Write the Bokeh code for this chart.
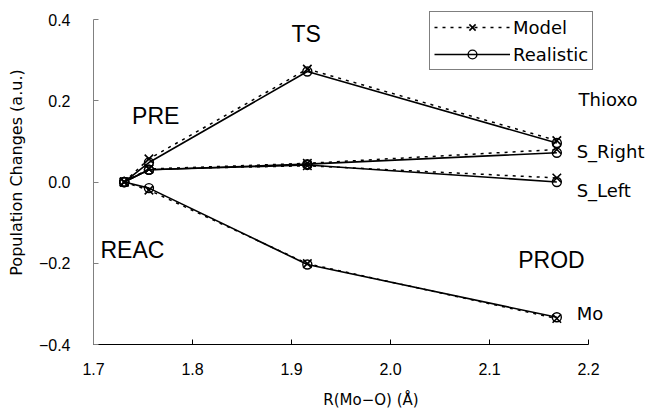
from bokeh.plotting import figure
from bokeh.models import Label, Legend, LegendItem, FixedTicker, Range1d
from bokeh.embed import file_html
from bokeh.resources import INLINE

# ---- data ----
r_mo_o = [1.731, 1.756, 1.916, 2.168]          # REAC, PRE, TS, PROD

thioxo_model = [0.0, 0.057, 0.278, 0.102]
thioxo_real = [0.0, 0.048, 0.272, 0.096]
sright_model = [0.0, 0.032, 0.046, 0.080]
sright_real = [0.0, 0.030, 0.044, 0.072]
sleft_model = [0.0, 0.032, 0.040, 0.010]
sleft_real = [0.0, 0.030, 0.042, 0.000]
mo_model = [0.0, -0.020, -0.201, -0.336]
mo_real = [0.0, -0.015, -0.203, -0.333]

x_ticks = [1.7, 1.8, 1.9, 2.0, 2.1, 2.2]
x_tick_labels = ["1.7", "1.8", "1.9", "2.0", "2.1", "2.2"]
y_ticks = [-0.4, -0.2, 0.0, 0.2, 0.4]
y_tick_labels = ["\u22120.4", "\u22120.2", "0.0", "0.2", "0.4"]

stage_labels = ["REAC", "PRE", "TS", "PROD"]
series_labels = ["Thioxo", "S_Right", "S_Left", "Mo"]

# ---- figure ----
# the frame is extended beyond the axes (axes limited by bounds) so that
# the annotations outside the 1.7-2.2 / -0.4-0.4 box are not clipped
p = figure(width=648, height=411, output_backend="svg", toolbar_location=None,
           x_range=Range1d(1.7, 2.2606), y_range=Range1d(-0.4, 0.4468),
           min_border_left=93, min_border_right=0, min_border_top=0,
           min_border_bottom=67)
p.xgrid.visible = False
p.ygrid.visible = False
p.outline_line_color = None
p.background_fill_color = "white"

# axes
p.xaxis.ticker = FixedTicker(ticks=x_ticks)
p.xaxis.major_label_overrides = dict(zip(x_ticks, x_tick_labels))
p.xaxis.bounds = (1.7, 2.2)
p.yaxis.ticker = FixedTicker(ticks=y_ticks)
p.yaxis.major_label_overrides = dict(zip(y_ticks, y_tick_labels))
p.yaxis.bounds = (-0.4, 0.4)
for ax in (p.xaxis, p.yaxis):
    ax.major_tick_in = 5
    ax.major_tick_out = 0
    ax.minor_tick_line_color = None
    ax.major_label_text_font = "Liberation Sans"
    ax.major_label_text_font_size = "16px"
    ax.major_label_text_color = "black"
    ax.axis_label_text_font = "DejaVu Sans"
    ax.axis_label_text_font_style = "normal"
    ax.axis_label_text_color = "black"
p.xaxis.axis_line_color = "black"
p.xaxis.major_tick_line_color = "black"
p.yaxis.axis_line_color = "#808080"
p.yaxis.major_tick_line_color = "#808080"
p.xaxis.major_label_standoff = 18
p.yaxis.major_label_standoff = 23
p.xaxis.axis_label = "R(Mo\u2212O) (\u00c5)"
p.xaxis.axis_label_text_font_size = "15px"
p.xaxis.axis_label_standoff = 13
p.yaxis.axis_label = "Population Changes (a.u.)"
p.yaxis.axis_label_text_font_size = "16px"
p.yaxis.axis_label_standoff = 10

model_series = [thioxo_model, sright_model, sleft_model, mo_model]
real_series = [thioxo_real, sright_real, sleft_real, mo_real]

model_rends = []
real_rends = []
for ys in real_series:
    l = p.line(r_mo_o, ys, line_color="black", line_width=1.6)
    s = p.scatter(r_mo_o, ys, marker="circle", size=9, line_color="black",
                  line_width=1.4, fill_color=None)
    real_rends += [l, s]
for ys in model_series:
    l = p.line(r_mo_o, ys, line_color="black", line_width=1.5, line_dash="3 5")
    s = p.scatter(r_mo_o, ys, marker="x", size=12, line_color="black",
                  line_width=1.6)
    model_rends += [l, s]

legend = Legend(items=[
    LegendItem(label="Model", renderers=[model_rends[0], model_rends[1]]),
    LegendItem(label="Realistic", renderers=[real_rends[0], real_rends[1]]),
], location=(336, 274))
legend.margin = 0
legend.padding = 4
legend.spacing = 5
legend.glyph_width = 76
legend.glyph_height = 22
legend.label_height = 22
legend.label_standoff = 3
legend.label_text_font = "DejaVu Sans"
legend.label_text_font_size = "18px"
legend.label_text_color = "black"
legend.border_line_color = "black"
legend.border_line_width = 1
legend.background_fill_color = "white"
legend.background_fill_alpha = 1.0
p.add_layout(legend)

# stage annotations (positions in data coordinates)
stage_pos = [(1.707, -0.168), (1.739, 0.162), (1.900, 0.364), (2.129, -0.191)]
for txt, (x, y) in zip(stage_labels, stage_pos):
    p.add_layout(Label(x=x, y=y, text=txt, text_font="Liberation Sans",
                       text_font_size="23px", text_color="black",
                       text_align="left", text_baseline="alphabetic"))

series_pos = [(2.190, 0.202), (2.188, 0.076), (2.188, -0.020), (2.188, -0.323)]
for txt, (x, y) in zip(series_labels, series_pos):
    p.add_layout(Label(x=x, y=y, text=txt, text_font="DejaVu Sans",
                       text_font_size="18px", text_color="black",
                       text_align="left", text_baseline="alphabetic"))

open("out.html", "w").write(file_html(p, INLINE))
